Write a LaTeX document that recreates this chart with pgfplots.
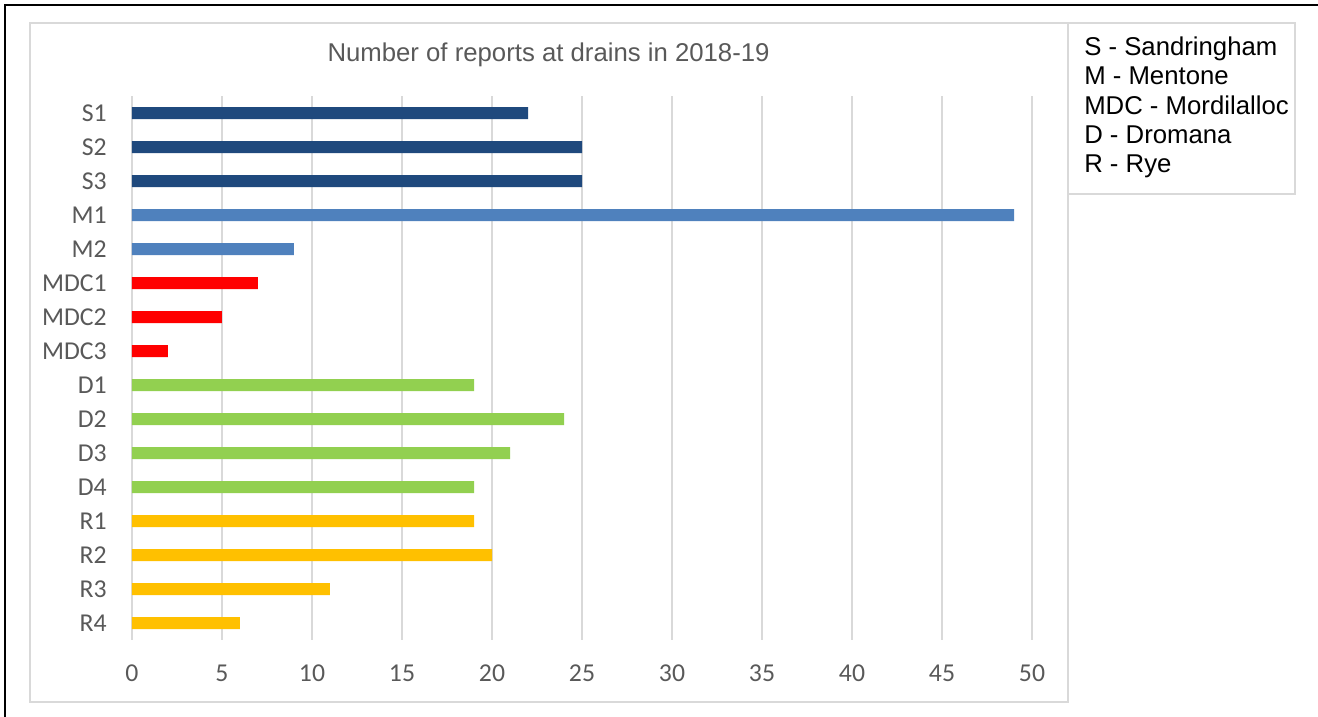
\documentclass[border=0pt]{standalone}
\usepackage{fontspec}
\setmainfont{Carlito}
\newfontfamily\arialf{Liberation Sans}
\usepackage{pgfplots}
\pgfplotsset{compat=1.18}
\definecolor{navy}{HTML}{1F497D}
\definecolor{mblue}{HTML}{4F81BD}
\definecolor{bred}{HTML}{FF0000}
\definecolor{bgreen}{HTML}{92D050}
\definecolor{gold}{HTML}{FFC000}
\definecolor{txtgray}{HTML}{595959}
\definecolor{gridgray}{HTML}{D9D9D9}
\begin{document}
\begin{tikzpicture}
\useasboundingbox (0,0) rectangle (988.5pt,-537.75pt);
% outer border (top and left visible)
\draw[black, line width=1pt] (3.75pt,-537.75pt) -- (3.75pt,-3.75pt) -- (988.5pt,-3.75pt);
% chart area
\draw[gridgray, line width=1pt] (22.5pt,-17.25pt) rectangle (801pt,-526.5pt);
% legend box
\draw[gridgray, line width=1pt] (801pt,-17.25pt) rectangle (971.25pt,-145.5pt);
\node[anchor=north west, inner sep=0pt, align=left, font=\arialf\fontsize{19.3pt}{22pt}\selectfont]
  at (813pt,-27.5pt) {S - Sandringham\\M - Mentone\\MDC - Mordilalloc\\D - Dromana\\R - Rye};
% title
\node[anchor=base, inner sep=0pt, text=txtgray, font=\arialf\fontsize{19.3pt}{22pt}\selectfont]
  at (411.4pt,-46.5pt) {Number of reports at drains in 2018-19};
\begin{axis}[
  at={(99pt,-480pt)}, anchor=south west,
  scale only axis, width=675pt, height=408pt,
  xmin=0, xmax=50, ymin=-0.5, ymax=15.5, y dir=reverse,
  xtick={0,5,...,50}, ytick={0,...,15},
  yticklabels={S1,S2,S3,M1,M2,MDC1,MDC2,MDC3,D1,D2,D3,D4,R1,R2,R3,R4},
  axis line style={draw=none},
  major tick length=0pt,
  xmajorgrids, grid style={gridgray, line width=0.9pt},
  ticklabel style={text=txtgray, font=\fontsize{19.3pt}{22pt}\selectfont},
  yticklabel style={anchor=east, inner sep=0pt, xshift=-18.75pt},
  xticklabel style={anchor=center, inner sep=0pt, yshift=-24.75pt},
  /pgf/number format/assume math mode=true,
  clip=false,
]
\addplot[xbar, bar width=9pt, bar shift=0pt, fill=navy, draw=none] coordinates {(22,0) (25,1) (25,2)};
\addplot[xbar, bar width=9pt, bar shift=0pt, fill=mblue, draw=none] coordinates {(49,3) (9,4)};
\addplot[xbar, bar width=9pt, bar shift=0pt, fill=bred, draw=none] coordinates {(7,5) (5,6) (2,7)};
\addplot[xbar, bar width=9pt, bar shift=0pt, fill=bgreen, draw=none] coordinates {(19,8) (24,9) (21,10) (19,11)};
\addplot[xbar, bar width=9pt, bar shift=0pt, fill=gold, draw=none] coordinates {(19,12) (20,13) (11,14) (6,15)};
\end{axis}
\end{tikzpicture}
\end{document}
